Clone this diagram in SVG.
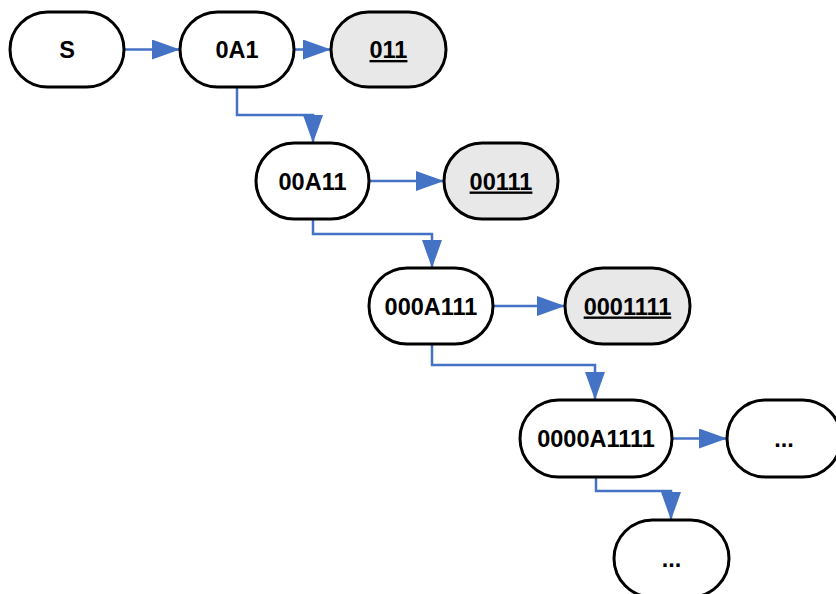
<svg xmlns="http://www.w3.org/2000/svg" width="836" height="594" viewBox="0 0 836 594">
<style>
.n{fill:#fff;stroke:#000;stroke-width:3}
.g{fill:#e8e8e8;stroke:#000;stroke-width:3}
.t{font-family:"Liberation Sans",Arial,sans-serif;font-weight:bold;font-size:23.5px;text-anchor:middle;fill:#000}
.u{text-decoration:underline}
.c{fill:none;stroke:#4472c4;stroke-width:2.5;marker-end:url(#ah)}
</style>
<defs>
<marker id="ah" markerUnits="userSpaceOnUse" markerWidth="28" markerHeight="20" refX="28" refY="10" orient="auto">
<path d="M0,0 L28,10 L0,20 z" fill="#4472c4"/>
</marker>
</defs>
<g id="connectors">
<path class="c" d="M124,49.5 H180"/>
<path class="c" d="M294,49.5 H331"/>
<path class="c" d="M237,87 V115 H313 V143"/>
<path class="c" d="M369,181 H444"/>
<path class="c" d="M313,219 V234 H432 V268"/>
<path class="c" d="M493,306 H565"/>
<path class="c" d="M432,344 V365 H595 V400"/>
<path class="c" d="M672,438.5 H727"/>
<path class="c" d="M596,477 V491 H671 V520"/>
</g>
<g id="S"><rect class="n" x="10" y="12" width="114" height="75" rx="37.5"/><text class="t" x="67" y="58">S</text></g>
<g id="n0A1"><rect class="n" x="180" y="12" width="114" height="75" rx="37.5"/><text class="t" x="237" y="58">0A1</text></g>
<g id="n011"><rect class="g" x="331" y="12" width="115" height="75" rx="37.5"/><text class="t u" x="388.5" y="58">011</text></g>
<g id="n00A11"><rect class="n" x="256" y="143" width="113" height="76" rx="38"/><text class="t" x="312.5" y="189.5">00A11</text></g>
<g id="n00111"><rect class="g" x="444" y="143" width="114" height="76" rx="38"/><text class="t u" x="501" y="189.5">00111</text></g>
<g id="n000A111"><rect class="n" x="369" y="268" width="124" height="76" rx="38"/><text class="t" x="431" y="314.5">000A111</text></g>
<g id="n0001111"><rect class="g" x="565" y="268" width="125" height="76" rx="38"/><text class="t u" x="627.5" y="314.5">0001111</text></g>
<g id="n0000A1111"><rect class="n" x="520" y="400" width="152" height="77" rx="38.5"/><text class="t" x="596" y="447">0000A1111</text></g>
<g id="dots1"><rect class="n" x="727" y="400" width="114" height="77" rx="38.5"/><text class="t" x="784" y="447">...</text></g>
<g id="dots2"><rect class="n" x="614" y="520" width="115" height="77" rx="38.5"/><text class="t" x="671.5" y="567">...</text></g>
</svg>
